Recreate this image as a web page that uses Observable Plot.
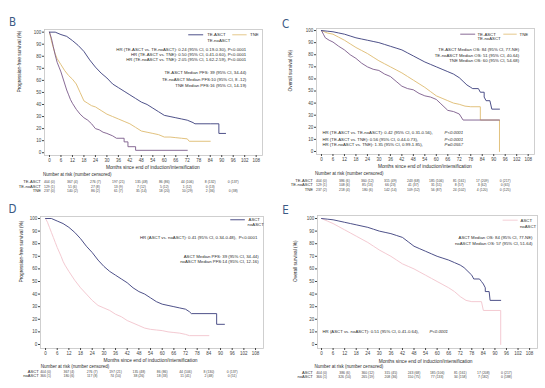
<!DOCTYPE html>
<html><head><meta charset="utf-8">
<script src="https://cdn.jsdelivr.net/npm/d3@7"></script>
<script src="https://cdn.jsdelivr.net/npm/@observablehq/plot@0.6"></script>
<style>
html,body{margin:0;padding:0;background:#fff;}
#wrap{position:relative;width:545px;height:388px;overflow:hidden;background:#fff;}
#wrap svg{position:absolute;}
</style></head>
<body><div id="wrap"></div>
<script>
// ---------- axis ticks ----------
const monthTicks = [0,6,12,18,24,30,36,42,48,54,60,66,72,78,84,90,96,102,108];
const pctTicks = [0,10,20,30,40,50,60,70,80,90,100];
const riskMonths = [0,12,24,36,48,60,72,84,96];

// ---------- Panel B: PFS by 3 groups [month, %] ----------
const bTEASCT = [[0,100],[3,100],[6,98],[9,96.5],[12,93],[15,89],[18,84],[21,77],[24,71],[27,66],[30,62],[33,57],[36,54],[39,51],[42,48],[45,45],[48,42],[51,40],[54,37],[57,34],[60,31],[63,30],[66,29],[69,28],[72,27],[75,25],[76,24],[84,24],[88.5,24],[88.5,16],[92,16]];
const bTEnoASCT = [[0,100],[1,95],[2,88],[3,81],[4,75],[5,71],[6,67],[7,62],[8,57],[9,52],[10,48],[11,44],[12,41],[14,36],[16,32],[18,29],[20,27],[22,24],[24,20],[26,19],[28,17],[30,16],[33,14],[35,12],[39,12],[39,9],[41,9],[41,5],[45,5],[45,2],[72,2]];
const bTNE = [[0,100],[1,93],[2,87],[3,82],[4,78],[6,73],[8,68],[10,64],[12,61],[14,57],[16,50],[18,43],[20,41],[22,39],[24,38],[27,35],[30,32],[33,30],[36,28],[39,26],[42,24],[45,21],[48,18],[51,17],[54,16],[57,15],[60,13],[63,13],[66,12.5],[69,12],[72,11.5],[73,9.5],[84,9.5]];
const bRiskTEASCT = ["404 (0)","367 (4)","276 (7)","197 (21)","135 (48)","86 (86)","44 (106)","8 (132)","0 (137)"];
const bRiskTEnoASCT = ["129 (1)","51 (6)","27 (8)","13 (9)","7 (12)","5 (12)","1 (12)","0 (13)"];
const bRiskTNE = ["237 (0)","140 (2)","86 (2)","61 (7)","35 (14)","18 (20)","10 (29)","2 (36)","0 (38)"];
const bNotes = ["HR (TE-ASCT vs. TE-noASCT): 0.24 (95% CI, 0.19-0.30), P<0.0001",
  "HR (TE-ASCT vs. TNE): 0.50 (95% CI, 0.41-0.60), P<0.0001",
  "HR (TE-noASCT vs. TNE): 2.05 (95% CI, 1.62-2.59), P<0.0001",
  "TE-ASCT Median PFS: 39 (95% CI, 34-44)",
  "TE-noASCT Median PFS:10 (95% CI, 8 -12)",
  "TNE Median PFS:16 (95% CI, 14-19)"];

// ---------- Panel C: OS by 3 groups ----------
const cTEASCT = [[0,100],[3,99.5],[6,99],[9,98],[12,97],[15,95.5],[18,94],[21,93],[24,92],[27,91],[30,90],[33,88.5],[36,87],[39,85.5],[42,84],[45,81.5],[48,79],[51,76.5],[54,74],[57,72],[60,70],[63,68],[66,66],[69,64],[72,61],[74,58],[76,55],[78,53],[79,52],[82,52],[83,49],[85,49],[85,45],[86,42],[88,42],[89,35],[93,35]];
const cTEnoASCT = [[0,100],[1,97],[2,94],[4,92],[6,90.5],[9,87],[12,84],[15,80],[18,77],[21,73],[24,70],[27,68],[30,67],[33,64],[36,62],[39,58],[42,54],[45,52],[48,51],[51,48],[54,46],[57,45],[60,43],[62,40],[64,37],[66,34],[69,33],[72,31],[74,26],[93,26]];
const cTNE = [[0,100],[3,98],[6,97],[9,94.5],[12,92],[15,89],[18,86],[21,83.5],[24,81],[27,78],[30,75],[33,72.5],[36,70],[39,67.5],[42,65],[45,62],[48,59],[51,56],[54,53],[57,49.5],[60,46],[63,44],[66,42],[69,40],[72,39],[75,37.5],[78,37],[83,37],[83,26],[93,26],[93,0]];
const cRiskTEASCT = ["404 (0)","386 (6)","360 (12)","315 (49)","243 (68)","185 (106)","81 (161)","17 (209)","0 (217)"];
const cRiskTEnoASCT = ["129 (1)","108 (6)","85 (13)","66 (23)","41 (37)","31 (51)","8 (57)","3 (62)","0 (65)"];
const cRiskTNE = ["237 (2)","218 (4)","180 (6)","142 (14)","109 (52)","56 (87)","24 (102)","4 (120)","0 (125)"];
const cNotes = ["TE-ASCT Median OS: 84 (95% CI, 77-NE)",
  "TE-noASCT Median OS: 51 (95% CI, 40-64)",
  "TNE Median OS: 60 (95% CI, 54-68)",
  "HR (TE-ASCT vs. TE-noASCT): 0.42 (95% CI, 0.31-0.56),",
  "HR (TE-ASCT vs. TNE): 0.56 (95% CI, 0.44-0.73),",
  "HR (TE-noASCT vs. TNE): 1.35 (95% CI, 0.99-1.85),"];
const cPvals = ["P<0.0001","P<0.0001","P=0.0557"];

// ---------- Panel D: PFS ASCT vs noASCT ----------
const dASCT = [[0,100],[3,100],[6,98],[9,96],[12,93],[15,89],[18,84],[21,78],[24,73],[27,67],[30,62],[33,58],[36,55],[39,52],[42,49],[45,45],[48,42],[51,40],[54,37],[57,34],[60,32],[63,31],[66,30],[69,29],[72,28],[74,26],[75,24.5],[88,24.5],[88,16],[92,16]];
const dNoASCT = [[0,100],[1,97],[2,93],[3,89],[4,85],[5,81],[6,77],[8,70],[9,66],[10,63],[12,58],[15,51],[18,45],[21,40],[24,35],[27,31],[30,29],[33,27],[36,24],[39,22],[42,19],[45,17],[48,15],[51,13],[54,12],[57,11.5],[60,11],[63,10],[66,9.5],[69,9],[72,8],[74,7],[84,7]];
const dRiskASCT = ["404 (0)","367 (4)","276 (7)","197 (21)","135 (48)","86 (86)","44 (106)","8 (130)","0 (137)"];
const dRiskNoASCT = ["366 (1)","180 (6)","117 (8)","74 (10)","38 (26)","18 (33)","11 (41)","2 (48)","0 (51)"];
const dNotes = ["HR (ASCT vs. noASCT): 0.41 (95% CI, 0.34-0.48),  P<0.0001",
  "ASCT Median PFS: 39 (95% CI, 34-44)",
  "noASCT Median PFS:14 (95% CI, 12-16)"];

// ---------- Panel E: OS ASCT vs noASCT ----------
const eASCT = [[0,100],[3,99.5],[6,99],[9,98],[12,97],[15,96],[18,95],[21,94],[24,93],[27,91.5],[30,90],[33,89],[36,88],[39,86.5],[42,85],[45,81.5],[48,78],[51,76],[54,74],[57,72],[60,70],[63,68.5],[66,67],[69,65],[72,63],[74,61],[76,58],[78,55],[79,52],[82,52],[83,50],[84,48],[85,45],[85,42],[87,42],[87.5,35],[93,35]];
const eNoASCT = [[0,100],[3,98],[6,96],[9,93.5],[12,91],[15,88.5],[18,86],[21,83.5],[24,81],[27,78],[30,75],[33,72.5],[36,70],[39,67],[42,64],[45,62],[48,60],[51,57.5],[54,55],[57,52.5],[60,50],[63,47.5],[66,45],[69,42],[72,38],[75,35],[78,34],[83,34],[84,27],[93,27],[93,0]];
const eRiskASCT = ["404 (0)","386 (6)","360 (12)","315 (45)","243 (68)","185 (106)","81 (161)","17 (208)","0 (217)"];
const eRiskNoASCT = ["366 (1)","326 (10)","265 (19)","208 (36)","150 (75)","77 (133)","34 (158)","7 (182)","0 (188)"];
const eNotes = ["ASCT Median OS: 84 (95% CI, 77-NE)",
  "noASCT Median OS: 57 (95% CI, 51-64)",
  "HR (ASCT vs. noASCT): 0.51 (95% CI, 0.41-0.64),"];
const ePval = "P<0.0001";

const xTitle = "Months since end of induction/intensification";
const riskTitle = "Number at risk (number censored)";

// ---------- styling ----------
const NAVY = "#3a3d7c", PURPLE = "#7a5a8a", GOLD = "#e2c27e", PINK = "#f4cad2";
const FONT = "Liberation Sans, Arial, sans-serif";
const INK = "#2a2a2a";

function kmPanel(c) {
  const W = 272, H = 194;
  const frameBottom = H - c.mb;
  const marks = [
    Plot.frame({stroke: "#c4c4c4", strokeWidth: 0.8}),
    Plot.axisX({ticks: monthTicks, tickSize: 2, tickPadding: 1.2, fontSize: 4.5, label: null, color: "#444"}),
    Plot.axisY({ticks: pctTicks, tickSize: 2, tickPadding: 1.2, fontSize: 4.5, label: null, color: "#444"}),
    // panel letter
    Plot.text([c.letter], {frameAnchor: "top-left", dx: c.letterXY[0] - c.ml, dy: c.letterXY[1] - c.mt,
      fontSize: 11.5, fill: "#3b5a84", fontFamily: "DejaVu Sans Condensed, DejaVu Sans, sans-serif", textAnchor: "middle", lineAnchor: "middle"}),
    // y title
    Plot.text([c.yLabel], {frameAnchor: "left", dx: c.yLabelX - c.ml, rotate: -90, fontSize: 4.8, fill: INK, fontFamily: FONT}),
    // x title
    Plot.text([xTitle], {x: [54], frameAnchor: "bottom", dy: c.rowY.title - frameBottom, fontSize: 4.8, fill: INK, fontFamily: FONT, lineAnchor: "middle"}),
    Plot.text([riskTitle], {x: [c.riskTitleX], frameAnchor: "bottom", dy: c.rowY.number - frameBottom, textAnchor: "start", fontSize: 4.5, fill: INK, fontFamily: FONT, lineAnchor: "middle"})
  ];
  // curves
  for (const s of c.series) {
    marks.push(Plot.line(s.data, {x: d => d[0], y: d => d[1], stroke: s.color, strokeWidth: s.width || 0.9, curve: "linear"}));
  }
  // risk table
  c.risk.forEach((r, i) => {
    const dy = c.rowY.rows[i] - frameBottom;
    marks.push(Plot.text([r.label], {x: [c.rowLabelX], frameAnchor: "bottom", dy, textAnchor: "end", fontSize: 4.1, fill: INK, fontFamily: FONT, lineAnchor: "middle"}));
    marks.push(Plot.text(r.values, {x: (d, j) => riskMonths[j], frameAnchor: "bottom", dy, fontSize: 3.4, fill: "#444", fontFamily: FONT, lineAnchor: "middle"}));
  });
  // legend
  for (const L of c.legend) {
    if (L.color) marks.push(Plot.link([L], {x1: d => d.x1, x2: d => d.x2, y1: d => d.y, y2: d => d.y, stroke: L.color, strokeWidth: 0.9}));
    marks.push(Plot.text([L], {x: d => d.tx, y: d => d.y, text: d => d.label, textAnchor: "start", fontSize: 4.3, fill: INK, fontFamily: FONT}));
  }
  // notes
  for (const n of c.notes) {
    marks.push(Plot.text([n], {x: d => d.x, y: d => d.y, text: d => d.text, textAnchor: n.anchor, fontSize: 4.3, fill: INK, fontFamily: FONT, fontStyle: n.italic ? "italic" : "normal"}));
  }
  const svg = Plot.plot({
    width: W, height: H,
    marginLeft: c.ml, marginRight: c.mr, marginTop: c.mt, marginBottom: c.mb,
    x: {domain: c.xDomain},
    y: {domain: c.yDomain},
    style: {fontFamily: FONT, background: "transparent", overflow: "visible"},
    marks
  });
  svg.style.left = c.left + "px";
  svg.style.top = c.top + "px";
  return svg;
}

const wrap = document.getElementById("wrap");

// Panel B
wrap.appendChild(kmPanel({
  letter: "B", letterXY: [12, 22], left: 0, top: 0,
  ml: 44, mr: 10, mt: 29, mb: 39, xDomain: [-2.6, 111.3], yDomain: [-2.3, 102.2],
  yLabel: "Progression-free survival (%)", yLabelX: 19,
  riskTitleX: -3.4, rowLabelX: -4.5,
  rowY: {title: 167, number: 174, rows: [181.5, 186, 190.5]},
  series: [{data: bTNE, color: GOLD, width: 1}, {data: bTEnoASCT, color: PURPLE}, {data: bTEASCT, color: NAVY}],
  risk: [{label: "TE-ASCT", values: bRiskTEASCT}, {label: "TE-noASCT", values: bRiskTEnoASCT}, {label: "TNE", values: bRiskTNE}],
  legend: [
    {x1: 72.5, x2: 80.3, y: 97.8, tx: 82.4, label: "TE-ASCT", color: NAVY},
    {x1: 95.5, x2: 103, y: 97.8, tx: 104.8, label: "TNE", color: GOLD},
    {x1: 72.5, x2: 80.3, y: 93.3, tx: 82.4, label: "TE-noASCT", color: null}
  ],
  notes: [
    {x: 102.8, y: 85.8, text: bNotes[0], anchor: "end"},
    {x: 102.8, y: 81.4, text: bNotes[1], anchor: "end"},
    {x: 102.8, y: 76.9, text: bNotes[2], anchor: "end"},
    {x: 102.8, y: 66.4, text: bNotes[3], anchor: "end"},
    {x: 102.8, y: 60.6, text: bNotes[4], anchor: "end"},
    {x: 102.8, y: 55.4, text: bNotes[5], anchor: "end"}
  ]
}));

// Panel C
wrap.appendChild(kmPanel({
  letter: "C", letterXY: [13, 24], left: 272, top: 0,
  ml: 44, mr: 10, mt: 28, mb: 40, xDomain: [-2.6, 111.3], yDomain: [-2.5, 101.7],
  yLabel: "Overall survival (%)", yLabelX: 18,
  riskTitleX: -3.4, rowLabelX: -4.5,
  rowY: {title: 166, number: 173, rows: [180, 184.5, 189]},
  series: [{data: cTNE, color: GOLD, width: 1}, {data: cTEnoASCT, color: PURPLE}, {data: cTEASCT, color: NAVY}],
  risk: [{label: "TE-ASCT", values: cRiskTEASCT}, {label: "TE-noASCT", values: cRiskTEnoASCT}, {label: "TNE", values: cRiskTNE}],
  legend: [
    {x1: 72.5, x2: 80.3, y: 97, tx: 81.5, label: "TE-ASCT", color: PURPLE},
    {x1: 95, x2: 102, y: 97, tx: 103.5, label: "TNE", color: GOLD},
    {x1: 72.5, x2: 80.3, y: 93, tx: 81.5, label: "TE-noASCT", color: null}
  ],
  notes: [
    {x: 103.3, y: 84.3, text: cNotes[0], anchor: "end"},
    {x: 103.3, y: 79.6, text: cNotes[1], anchor: "end"},
    {x: 103.3, y: 74.9, text: cNotes[2], anchor: "end"},
    {x: 0.5, y: 15.2, text: cNotes[3], anchor: "start"},
    {x: 0.5, y: 10.2, text: cNotes[4], anchor: "start"},
    {x: 0.5, y: 5.5, text: cNotes[5], anchor: "start"},
    {x: 64.3, y: 15.2, text: cPvals[0], anchor: "start", italic: true},
    {x: 64.3, y: 10.2, text: cPvals[1], anchor: "start", italic: true},
    {x: 64.3, y: 5.5, text: cPvals[2], anchor: "start", italic: true}
  ]
}));

// Panel D
wrap.appendChild(kmPanel({
  letter: "D", letterXY: [12, 15], left: 0, top: 194,
  ml: 40, mr: 9, mt: 22, mb: 40, xDomain: [-2.6, 112.1], yDomain: [-3.2, 101.6],
  yLabel: "Progression-free survival (%)", yLabelX: 21,
  riskTitleX: -2.5, rowLabelX: -3.5,
  rowY: {title: 166, number: 172, rows: [177.5, 181.5]},
  series: [{data: dNoASCT, color: PINK, width: 1}, {data: dASCT, color: NAVY}],
  risk: [{label: "ASCT", values: dRiskASCT}, {label: "noASCT", values: dRiskNoASCT}],
  legend: [
    {x1: 95, x2: 102.5, y: 99, tx: 104.4, label: "ASCT", color: NAVY},
    {x1: 95, x2: 102.5, y: 95.5, tx: 103.9, label: "noASCT", color: null}
  ],
  notes: [
    {x: 108.9, y: 85, text: dNotes[0], anchor: "end"},
    {x: 109.6, y: 69.8, text: dNotes[1], anchor: "end"},
    {x: 109.6, y: 66.1, text: dNotes[2], anchor: "end"}
  ]
}));

// Panel E
wrap.appendChild(kmPanel({
  letter: "E", letterXY: [13, 16], left: 272, top: 194,
  ml: 45, mr: 7, mt: 21, mb: 40, xDomain: [-2.1, 112.1], yDomain: [-3.2, 102.4],
  yLabel: "Overall survival (%)", yLabelX: 23,
  riskTitleX: -3.6, rowLabelX: -4.5,
  rowY: {title: 166.5, number: 172.5, rows: [178, 182]},
  series: [{data: eNoASCT, color: PINK, width: 1}, {data: eASCT, color: NAVY}],
  risk: [{label: "ASCT", values: eRiskASCT}, {label: "noASCT", values: eRiskNoASCT}],
  legend: [
    {x1: 94, x2: 101.8, y: 98.7, tx: 103.3, label: "ASCT", color: PINK},
    {x1: 94, x2: 101.8, y: 93.4, tx: 103, label: "noASCT", color: null}
  ],
  notes: [
    {x: 109.5, y: 85, text: eNotes[0], anchor: "end"},
    {x: 109.5, y: 80, text: eNotes[1], anchor: "end"},
    {x: 0.5, y: 10.3, text: eNotes[2], anchor: "start"},
    {x: 56, y: 10.3, text: ePval, anchor: "start", italic: true}
  ]
}));
</script>
</body></html>
